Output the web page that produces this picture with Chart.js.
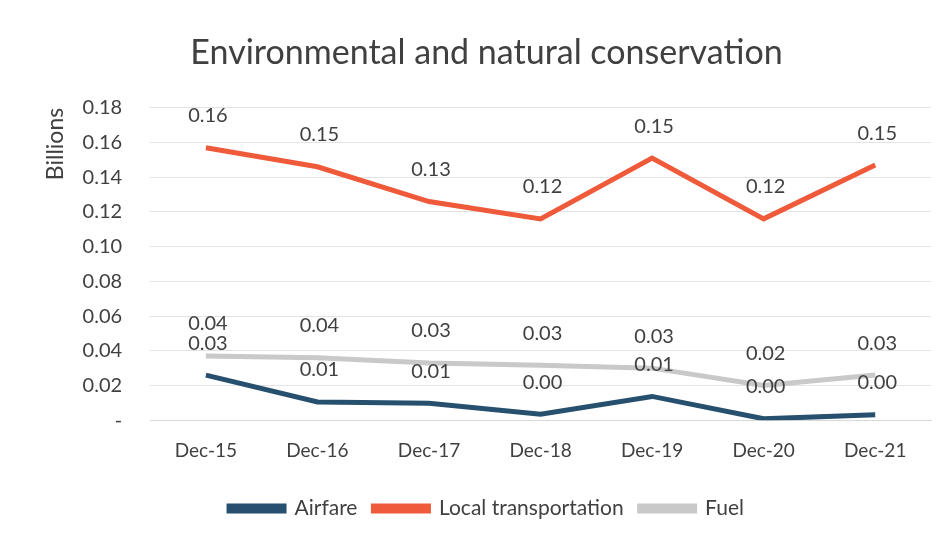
<!DOCTYPE html>
<html lang="en">
<head>
    <meta charset="UTF-8">
    <title>Environmental and natural conservation</title>
    <script src="https://cdn.jsdelivr.net/npm/chart.js"></script>
    <style>
        body { margin: 0; background: #fff; }
        .wrap { width: 947px; height: 544px; }
    </style>
</head>
<body>
    <div class="wrap"><canvas id="chart" width="947" height="544"></canvas></div>

    <script>
        const months = ['Dec-15', 'Dec-16', 'Dec-17', 'Dec-18', 'Dec-19', 'Dec-20', 'Dec-21'];
        const airfare = [0.026, 0.0105, 0.0097, 0.0034, 0.0137, 0.0008, 0.0031];
        const localTransport = [0.157, 0.146, 0.126, 0.116, 0.151, 0.116, 0.147];
        const fuel = [0.037, 0.036, 0.033, 0.0316, 0.030, 0.020, 0.026];

        const textColor = '#404040';
        const fontFamily = 'Lato, "Open Sans", sans-serif';

        // value labels above each point
        const pointLabels = {
            id: 'pointLabels',
            afterDatasetsDraw(chart) {
                const ctx = chart.ctx;
                ctx.save();
                ctx.font = '20px ' + fontFamily;
                ctx.fillStyle = textColor;
                ctx.textAlign = 'center';
                ctx.textBaseline = 'middle';
                chart.data.datasets.forEach((ds, i) => {
                    chart.getDatasetMeta(i).data.forEach((pt, j) => {
                        ctx.fillText(ds.data[j].toFixed(2), pt.x + 2, pt.y - 32);
                    });
                });
                ctx.restore();
            }
        };

        function lineSet(label, data, color) {
            return {
                label: label,
                data: data,
                borderColor: color,
                backgroundColor: color,
                borderWidth: 5,
                pointRadius: 0,
                tension: 0
            };
        }

        new Chart(document.getElementById('chart'), {
            type: 'line',
            data: {
                labels: months,
                datasets: [
                    lineSet('Airfare', airfare, '#26506e'),
                    lineSet('Local transportation', localTransport, '#ef5a3a'),
                    lineSet('Fuel', fuel, '#c9c9c9')
                ]
            },
            options: {
                responsive: false,
                animation: false,
                layout: { padding: { left: 42, right: 16, top: 10, bottom: 15 } },
                plugins: {
                    title: {
                        display: true,
                        text: 'Environmental and natural conservation',
                        color: textColor,
                        font: { family: fontFamily, size: 34, weight: 'normal' },
                        padding: { top: 23, bottom: 34 }
                    },
                    legend: {
                        position: 'bottom',
                        labels: {
                            color: textColor,
                            font: { family: fontFamily, size: 21 },
                            boxWidth: 55,
                            boxHeight: 5,
                            padding: 16
                        }
                    },
                    tooltip: { enabled: false }
                },
                scales: {
                    x: {
                        offset: true,
                        grid: { display: false },
                        border: { color: '#d9d9d9' },
                        ticks: {
                            color: textColor,
                            font: { family: fontFamily, size: 19 },
                            padding: 11,
                            maxRotation: 0
                        },
                        afterFit(scale) { scale.height += 9; }
                    },
                    y: {
                        min: 0,
                        max: 0.18,
                        grid: { color: '#e3e3e3', drawTicks: false },
                        border: { display: false },
                        ticks: {
                            stepSize: 0.02,
                            color: textColor,
                            font: { family: fontFamily, size: 20 },
                            padding: 28,
                            callback: v => Math.abs(v) < 1e-9 ? '-' : v.toFixed(2)
                        },
                        title: {
                            display: true,
                            text: 'Billions',
                            align: 'end',
                            color: textColor,
                            font: { family: fontFamily, size: 23 },
                            padding: { top: 0, bottom: -15 }
                        }
                    }
                }
            },
            plugins: [pointLabels]
        });
    </script>
</body>
</html>
